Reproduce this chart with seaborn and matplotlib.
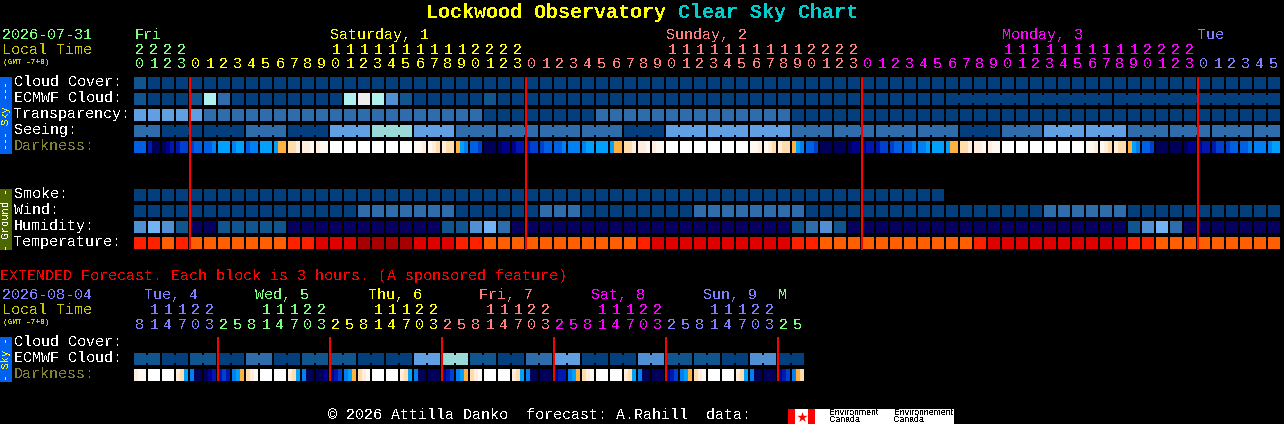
import matplotlib
matplotlib.use("Agg")
import matplotlib.pyplot as plt
import numpy as np
import seaborn as sns
from matplotlib.colors import ListedColormap
from matplotlib.patches import Rectangle

# colour levels used by the rows, one letter each
PALETTE = {
    "A": "#033e7d", "B": "#11558f", "C": "#2e6cab", "D": "#4f8fd2", "E": "#60a0e2",
    "F": "#70b4f6", "G": "#99d9d8", "H": "#b0f0ee", "I": "#ececec", "N": "#08005f",
    "O": "#ff5f00", "R": "#ff2000", "S": "#e10000", "T": "#a70000",
    "k": "#000058", "n": "#00008c", "d": "#0018b0", "b": "#0040d0", "m": "#0060e4",
    "a": "#0080f2", "c": "#00a0ff", "y": "#ffb040", "p": "#ffdcaa", "q": "#ffeedd",
    "r": "#fff8f0", "w": "#ffffff",
}
LEVELS = list(PALETTE)

main_hours = [20, 21, 22, 23, 0, 1, 2, 3, 4, 5, 6, 7, 8, 9, 10, 11, 12, 13, 14, 15, 16, 17, 18, 19, 20, 21, 22, 23,
              0, 1, 2, 3, 4, 5, 6, 7, 8, 9, 10, 11, 12, 13, 14, 15, 16, 17, 18, 19, 20, 21, 22, 23,
              0, 1, 2, 3, 4, 5, 6, 7, 8, 9, 10, 11, 12, 13, 14, 15, 16, 17, 18, 19, 20, 21, 22, 23,
              0, 1, 2, 3, 4, 5]
main_colors = ["#7fff7f", "#ffff00", "#ff7f7f", "#ff00ff", "#7f7fff"]
main_days = [("Fri", 135), ("Saturday, 1", 330), ("Sunday, 2", 666), ("Monday, 3", 1002), ("Tue", 1198)]

cloud_cover = "B" + "A" * 81
ecmwf_cloud = "BAAABHC" + "A" * 8 + "HIHDB" + "A" * 5 + "B" + "A" * 56
transparency = "E" * 5 + "C" * 20 + "A" * 8 + "C" * 14 + "A" * 35
seeing = ("CC" + "A" * 6 + "CCC" + "AAA" + "EEE" + "GGG" + "EEE" + "C" * 12 + "AAA" + "E" * 9 + "C" * 12
          + "AAA" + "CCC" + "E" * 6 + "C" * 11)
smoke = "A" * 58 + "." * 24
wind = "A" * 16 + "C" * 7 + "A" * 6 + "CCC" + "A" * 8 + "C" * 8 + "A" * 17 + "C" * 6 + "A" * 11
humidity = "DFDB" + "NN" + "BBBBB" + "N" * 11 + "BBDFC" + "N" * 20 + "BCDB" + "N" * 20 + "BDFC" + "N" * 7
temperature = ("RROR" + "O" * 7 + "RR" + "SSS" + "TTTT" + "SSS" + "RR" + "O" * 11 + "R" + "S" * 10 + "RR"
               + "O" * 11 + "R" + "S" * 10 + "RR" + "O" * 9)
seeing_starts = [0] + list(range(2, 82, 3))
ecmwf_starts = list(range(0, 59)) + [64, 70]

darkness = ("mmm dkk knd dbb bmm mma ccc acc maa ccc cyy ppq qqr qrr www www www www www www rrq rqp qpp yca "
            "mmb kkk knn ndd dbb bmm mma aaa acc ccc cyy ppq qqr qrr www www www www www www rrq rqp qpp yca "
            "mmb kkk kkk knn ndd dbb bmm mma aac ccc cyy ppq qqr qrr www www www www www www rrq rqp qpp yca "
            "mmb kkk kkk knn ndd dbb bmm mma aaa acc").split()

ext_hours = [8, 11, 14, 17, 20, 23, 2, 5, 8, 11, 14, 17, 20, 23, 2, 5, 8, 11, 14, 17, 20, 23, 2, 5,
             8, 11, 14, 17, 20, 23, 2, 5, 8, 11, 14, 17, 20, 23, 2, 5, 8, 11, 14, 17, 20, 23, 2, 5]
ext_colors = ["#7f7fff", "#7fff7f", "#ffff00", "#ff7f7f", "#ff00ff", "#7f7fff", "#7fff7f"]
ext_days = [("Tue, 4", 144), ("Wed, 5", 255), ("Thu, 6", 368), ("Fri, 7", 479), ("Sat, 8", 591), ("Sun, 9", 703), ("M", 778)]
ext_ecmwf = "BBAABBAACCAABBBBAAAAEEGGBBAACCEEAAAADDBBBBAADDAA"
ext_darkness = ("qrr www www qpc akk knd dbd acy pqr www www qpc akk kkn ndb acy pqr www www qpc akk kkk ndb acy "
                "pqr www www qpc akk kkk ndd acy pqr www www qpc akk kkk ndb acy pqr www www qpc akk kkk ndb ayp").split()

W, H = 1284, 424
GRID_X = 134
CELL = 14

sns.set_theme(style="dark", rc={"figure.facecolor": "black", "savefig.facecolor": "black", "axes.facecolor": "black"})
plt.rcParams["font.family"] = ["Liberation Mono", "DejaVu Sans Mono"]
plt.rcParams["text.antialiased"] = False

cmap = ListedColormap([PALETTE[k] for k in LEVELS])
fig = plt.figure(figsize=(W / 100, H / 100), dpi=100)


def px_axes(x, y, w, h):
    ax = fig.add_axes([x / W, 1 - (y + h) / H, w / W, h / H])
    ax.patch.set_visible(False)
    return ax


def codes(letters):
    return [LEVELS.index(c) if c != "." else np.nan for c in letters]


def hmap(ax, data, **kw):
    data = np.array(data, dtype=float)
    sns.heatmap(data, ax=ax, cmap=cmap, vmin=-0.5, vmax=len(LEVELS) - 0.5, cbar=False, mask=np.isnan(data),
                xticklabels=False, yticklabels=False, **kw)


def draw_row(letters, top, starts=None):
    n = len(letters)
    ax = px_axes(GRID_X - 1, top - 1, CELL * n, 14)
    # 1.44 pt is 2 px at this dpi
    hmap(ax, [codes(letters)], linewidths=1.44, linecolor="black")
    if starts is None:
        return
    # narrow bridges between blocks of the same forecast period
    vals = codes(letters)
    bridge = [vals[i] if i + 1 < n and i + 1 not in starts else np.nan for i in range(n)]
    ax = px_axes(GRID_X + 6, top + 2, CELL * n, 8)
    hmap(ax, [bridge])


def draw_darkness(samples, top):
    # 3 samples per block, each 4 px, then a 2 px gap
    vals = []
    for s in samples:
        for c in s:
            vals += codes(c) * 2
        vals.append(np.nan)
    ax = px_axes(GRID_X, top, CELL * len(samples), 12)
    hmap(ax, [vals])


draw_row(cloud_cover, 77)
draw_row(ecmwf_cloud, 93, ecmwf_starts)
draw_row(transparency, 109)
draw_row(seeing, 125, seeing_starts)
draw_darkness(darkness, 141)
draw_row(smoke, 189)
draw_row(wind, 205)
draw_row(humidity, 221)
draw_row(temperature, 237)
draw_row(ext_ecmwf, 353, list(range(0, 48, 2)))
draw_darkness(ext_darkness, 369)

# overlay in picture pixels for labels, side bars and day lines
ov = px_axes(0, 0, W, H)
ov.set_xlim(0, W)
ov.set_ylim(H, 0)
ov.axis("off")
ov.set_zorder(10)

FS = 10.8


def label(x, y, s, color="white", **kw):
    kw.setdefault("fontsize", FS)
    kw.setdefault("va", "center")
    ov.text(x, y, s, color=color, **kw)


def hour_labels(hours, colors, y_tens, y_ones):
    day = 0
    breaks = []
    for i, h in enumerate(hours):
        if i and h < hours[i - 1]:
            day += 1
            breaks.append(i)
        cx = GRID_X + CELL * i + 6
        if h >= 10:
            label(cx, y_tens, str(h // 10), colors[day], ha="center")
        label(cx, y_ones, str(h % 10), colors[day], ha="center")
    return breaks


def side_bar(top, bottom, color, text, text_color, fs):
    ov.add_patch(Rectangle((0, top), 12, bottom - top, color=color, lw=0))
    label(6, (top + bottom) / 2, text, text_color, rotation=90, ha="center", fontsize=fs)


# title
label(426, 12, "Lockwood Observatory", "#ffff00", fontsize=14.4, fontweight="bold")
label(678, 12, "Clear Sky Chart", "#00cdcd", fontsize=14.4, fontweight="bold")

# main header
label(2, 35, "2026-07-31", main_colors[0])
label(2, 50, "Local Time", "#c8c800")
label(3, 62, "(GMT -7+0)", "#c8c800", fontsize=5.6, fontweight="bold")
for (name, x), c in zip(main_days, main_colors):
    label(x, 35, name, c)
main_breaks = hour_labels(main_hours, main_colors, 50, 64)

# row names
for y, name, c in [(82, "Cloud Cover:", "white"), (98, "ECMWF Cloud:", "white"), (114, "Transparency:", "white"),
                   (130, "Seeing:", "white"), (146, "Darkness:", "#828232"), (194, "Smoke:", "white"),
                   (210, "Wind:", "white"), (226, "Humidity:", "white"), (242, "Temperature:", "white"),
                   (342, "Cloud Cover:", "white"), (358, "ECMWF Cloud:", "white"), (374, "Darkness:", "#828232")]:
    label(14, y, name, c)

side_bar(77, 154, "#0060f0", "--- Sky ---", "#ffff00", 7.5)
side_bar(189, 250, "#4c6600", "- Ground -", "#ffffff", 7.5)
side_bar(337, 382, "#0060f0", "- Sky -", "#ffff00", 7.5)

# extended section
label(0, 276, "EXTENDED Forecast. Each block is 3 hours. (A sponsored feature)", "#ff0000")
label(2, 295, "2026-08-04", ext_colors[0])
label(2, 310, "Local Time", "#c8c800")
label(3, 322, "(GMT -7+0)", "#c8c800", fontsize=5.6, fontweight="bold")
for (name, x), c in zip(ext_days, ext_colors):
    label(x, 295, name, c)
ext_breaks = hour_labels(ext_hours, ext_colors, 310, 325)

# day boundaries, solid 2 px
ov.vlines([GRID_X + CELL * i for i in main_breaks], 77, 250, color="#ff0000", lw=1.44, antialiased=False)
ov.vlines([GRID_X + CELL * i for i in ext_breaks], 337, 381, color="#ff0000", lw=1.44, antialiased=False)

# footer and logo
label(328, 415, "\u00a9 2026 Attilla Danko  forecast: A.Rahill  data:")
ov.add_patch(Rectangle((788, 409), 166, 15, color="white", lw=0))
ov.add_patch(Rectangle((788, 409), 7, 15, color="#ff0000", lw=0))
ov.add_patch(Rectangle((808, 409), 7, 15, color="#ff0000", lw=0))
ov.scatter([801.5], [416.5], marker="*", s=60, color="#ff0000", lw=0)
for x, a in [(829, "Environment"), (894, "Environnement")]:
    label(x, 412.5, a, "black", fontsize=6.3, family="Liberation Sans")
    label(x, 420, "Canada", "black", fontsize=6.3, family="Liberation Sans")

fig.savefig("out.png", dpi=100, facecolor="black")
